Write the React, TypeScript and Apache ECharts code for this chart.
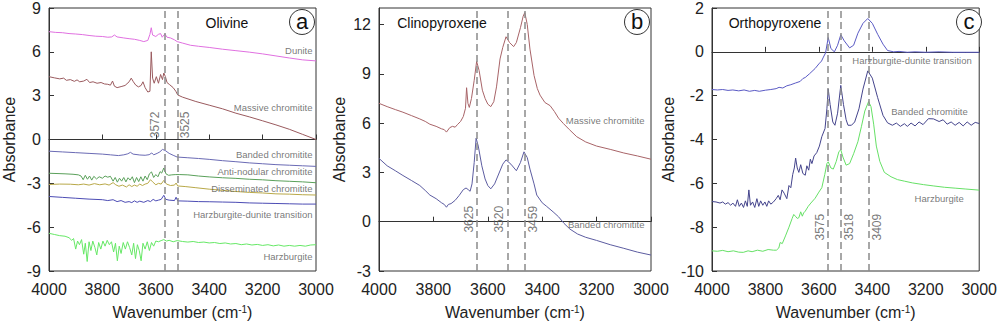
import React, { useEffect, useRef } from 'react';
import * as echarts from 'echarts';

const FONT = '"Liberation Sans", Arial, sans-serif';

// ---------- Panel a: Olivine ----------
const olivineDunite: number[][] = [
  [4000, 7.38], [3975, 7.33], [3950, 7.31], [3925, 7.25], [3900, 7.22], [3875, 7.18], [3850, 7.12], [3825, 7.07],
  [3800, 7.05], [3780, 7.0], [3765, 7.02], [3755, 7.15], [3745, 7.02], [3720, 6.95], [3700, 6.9], [3680, 6.86],
  [3660, 6.78], [3645, 6.7], [3630, 6.78], [3622, 7.2], [3617, 7.65], [3612, 7.15], [3600, 7.05], [3590, 7.2],
  [3582, 7.25], [3576, 7.0], [3570, 7.15], [3565, 7.2], [3558, 7.0], [3545, 6.95], [3530, 6.82], [3520, 6.7],
  [3500, 6.6], [3470, 6.45], [3440, 6.38], [3400, 6.3], [3350, 6.18], [3300, 6.08], [3250, 5.98], [3200, 5.86],
  [3150, 5.72], [3100, 5.58], [3050, 5.45], [3000, 5.38],
];
const olivineMassive: number[][] = [
  [4000, 4.3], [3980, 4.22], [3960, 4.15], [3945, 4.2], [3935, 4.05], [3920, 4.1], [3905, 3.98], [3895, 4.08],
  [3885, 3.95], [3870, 4.0], [3858, 4.12], [3848, 3.9], [3835, 3.95], [3820, 3.85], [3805, 3.9], [3792, 3.8],
  [3780, 3.78], [3770, 3.72], [3762, 4.0], [3755, 3.65], [3745, 3.55], [3730, 3.62], [3715, 3.7], [3700, 3.95],
  [3692, 4.2], [3684, 3.95], [3675, 3.72], [3665, 3.6], [3655, 3.7], [3648, 3.95], [3640, 3.55], [3630, 3.25],
  [3622, 3.3], [3617, 6.0], [3612, 4.2], [3606, 3.85], [3598, 4.3], [3590, 3.85], [3582, 4.45], [3575, 4.1],
  [3570, 4.55], [3564, 4.3], [3558, 3.9], [3548, 3.75], [3535, 3.55], [3525, 3.3], [3518, 3.05], [3500, 2.9],
  [3450, 2.6], [3400, 2.35], [3350, 2.1], [3300, 1.8], [3250, 1.55], [3200, 1.28], [3150, 1.0], [3100, 0.7],
  [3050, 0.35], [3000, 0.0],
];
const olivineBanded: number[][] = [
  [4000, -0.8], [3950, -0.85], [3900, -0.9], [3850, -0.95], [3800, -1.0], [3770, -1.05], [3740, -1.1], [3720, -1.05],
  [3705, -0.98], [3695, -0.88], [3685, -1.0], [3660, -1.06], [3640, -1.08], [3625, -1.04], [3615, -0.92], [3608, -1.05],
  [3595, -0.95], [3585, -0.85], [3575, -0.68], [3565, -0.75], [3550, -0.95], [3535, -1.08], [3520, -1.2], [3480, -1.25],
  [3440, -1.3], [3400, -1.36], [3350, -1.45], [3300, -1.52], [3250, -1.6], [3200, -1.66], [3150, -1.72], [3100, -1.76],
  [3050, -1.8], [3000, -1.84],
];
const olivineAntiNodular: number[][] = [
  [4000, -2.31], [3970, -2.33], [3940, -2.35], [3910, -2.38], [3890, -2.42], [3880, -2.5], [3872, -2.75], [3864, -2.45],
  [3856, -2.72], [3848, -2.5], [3840, -2.78], [3832, -2.52], [3822, -2.7], [3812, -2.55], [3800, -2.65], [3790, -2.5],
  [3780, -2.58], [3770, -2.52], [3760, -2.85], [3752, -2.6], [3744, -2.92], [3736, -2.65], [3728, -2.85], [3720, -2.6],
  [3712, -2.9], [3704, -2.62], [3696, -2.78], [3688, -2.55], [3680, -2.95], [3672, -2.6], [3664, -2.88], [3656, -2.55],
  [3648, -2.85], [3640, -2.5], [3632, -2.75], [3624, -2.35], [3616, -2.22], [3608, -2.6], [3600, -2.4], [3592, -2.55],
  [3584, -2.2], [3578, -2.3], [3570, -1.95], [3562, -2.35], [3552, -2.45], [3540, -2.42], [3525, -2.4], [3510, -2.4],
  [3480, -2.42], [3440, -2.5], [3400, -2.56], [3350, -2.62], [3300, -2.66], [3250, -2.72], [3200, -2.76], [3150, -2.82],
  [3100, -2.86], [3050, -2.9], [3000, -2.96],
];
const olivineDisseminated: number[][] = [
  [4000, -3.08], [3960, -3.05], [3920, -3.06], [3890, -3.1], [3870, -3.05], [3850, -3.12], [3830, -3.02], [3810, -3.1],
  [3790, -3.04], [3775, -3.12], [3760, -2.95], [3750, -3.1], [3738, -3.2], [3725, -3.12], [3710, -3.25], [3700, -3.1],
  [3690, -3.22], [3680, -3.12], [3670, -3.2], [3660, -3.05], [3650, -3.15], [3640, -3.05], [3630, -3.0], [3620, -2.75],
  [3612, -2.9], [3600, -3.1], [3590, -3.0], [3580, -3.05], [3570, -2.8], [3560, -3.05], [3545, -3.15], [3530, -3.12],
  [3524, -2.98], [3518, -3.18], [3490, -3.22], [3450, -3.3], [3400, -3.4], [3350, -3.48], [3300, -3.56], [3250, -3.62],
  [3200, -3.66], [3150, -3.72], [3100, -3.74], [3050, -3.78], [3000, -3.8],
];
const olivineTransition: number[][] = [
  [4000, -3.9], [3950, -3.96], [3900, -4.02], [3850, -4.08], [3800, -4.12], [3780, -4.18], [3760, -4.12], [3745, -4.25],
  [3730, -4.18], [3715, -4.3], [3700, -4.25], [3690, -4.32], [3680, -4.2], [3670, -4.3], [3660, -4.22], [3645, -4.3],
  [3630, -4.18], [3620, -4.25], [3610, -4.1], [3600, -4.2], [3590, -4.15], [3580, -4.1], [3570, -3.82], [3562, -4.1],
  [3550, -4.15], [3530, -4.18], [3524, -3.95], [3518, -4.2], [3480, -4.22], [3440, -4.25], [3400, -4.26], [3350, -4.28],
  [3300, -4.3], [3250, -4.34], [3200, -4.36], [3150, -4.38], [3100, -4.4], [3050, -4.42], [3000, -4.42],
];
const olivineHarzburgite: number[][] = [
  [4000, -6.42], [3980, -6.5], [3960, -6.58], [3940, -6.62], [3925, -6.72], [3915, -6.9], [3908, -6.78], [3900, -7.5],
  [3893, -6.95], [3886, -7.2], [3878, -6.85], [3870, -7.85], [3864, -7.1], [3857, -8.35], [3850, -7.0], [3843, -7.6],
  [3836, -6.95], [3828, -7.4], [3821, -7.9], [3814, -7.05], [3806, -7.5], [3798, -6.95], [3790, -7.3], [3782, -6.9],
  [3774, -7.2], [3766, -7.0], [3758, -7.7], [3751, -7.1], [3744, -8.3], [3737, -7.3], [3730, -7.8], [3722, -7.05],
  [3714, -7.5], [3706, -7.0], [3698, -7.4], [3690, -7.9], [3683, -7.1], [3676, -8.15], [3669, -7.2], [3662, -7.6],
  [3655, -8.3], [3648, -7.1], [3640, -7.5], [3632, -7.0], [3624, -7.6], [3616, -7.05], [3608, -7.3], [3600, -6.95],
  [3590, -7.0], [3580, -6.92], [3570, -6.85], [3560, -6.95], [3550, -6.9], [3535, -7.0], [3520, -6.92], [3500, -6.98],
  [3480, -7.02], [3460, -6.98], [3440, -7.05], [3420, -7.02], [3400, -7.08], [3380, -7.05], [3360, -7.12], [3340, -7.08],
  [3320, -7.15], [3300, -7.12], [3280, -7.2], [3260, -7.15], [3240, -7.22], [3220, -7.18], [3200, -7.25], [3180, -7.2],
  [3160, -7.28], [3140, -7.22], [3120, -7.3], [3100, -7.25], [3080, -7.3], [3060, -7.25], [3040, -7.3], [3020, -7.22],
  [3000, -7.2],
];
const olivinePeakLines = [3567, 3519];
const olivinePeakLabels = ['3572', '3525'];

// ---------- Panel b: Clinopyroxene ----------
const cpxMassive: number[][] = [
  [4000, 7.2], [3970, 7.0], [3940, 6.82], [3912, 6.66], [3880, 6.45], [3850, 6.25], [3830, 6.1], [3813, 5.93],
  [3790, 5.8], [3770, 5.65], [3760, 5.6], [3752, 5.45], [3740, 5.72], [3730, 5.8], [3720, 5.75], [3712, 5.9],
  [3700, 6.1], [3690, 6.4], [3682, 6.9], [3678, 8.15], [3673, 7.2], [3668, 6.95], [3660, 7.5], [3650, 8.6],
  [3641, 9.75], [3632, 9.2], [3620, 8.0], [3610, 7.5], [3600, 7.15], [3589, 7.0], [3578, 7.3], [3568, 8.2],
  [3555, 9.9], [3545, 10.6], [3533, 11.25], [3520, 10.9], [3505, 10.65], [3495, 10.9], [3480, 11.8], [3470, 12.5],
  [3464, 12.72], [3455, 12.0], [3445, 10.5], [3430, 8.9], [3418, 8.1], [3408, 7.7], [3390, 7.25], [3371, 7.06],
  [3355, 6.7], [3340, 6.3], [3322, 5.97], [3300, 5.6], [3273, 5.17], [3240, 4.85], [3200, 4.6], [3150, 4.4],
  [3100, 4.18], [3050, 4.0], [3000, 3.8],
];
const cpxBanded: number[][] = [
  [4000, 3.85], [3970, 3.4], [3940, 3.1], [3912, 2.81], [3880, 2.5], [3850, 2.2], [3830, 1.9], [3813, 1.62],
  [3790, 1.4], [3770, 1.15], [3760, 1.05], [3752, 0.88], [3745, 1.05], [3735, 1.1], [3720, 1.3], [3705, 1.6],
  [3690, 1.95], [3680, 2.05], [3672, 1.95], [3665, 1.85], [3658, 2.3], [3650, 3.6], [3643, 5.08], [3635, 4.6],
  [3622, 3.4], [3610, 2.6], [3600, 2.2], [3589, 2.0], [3575, 2.3], [3560, 2.9], [3545, 3.5], [3533, 3.76],
  [3515, 3.5], [3495, 3.1], [3480, 3.6], [3467, 4.25], [3455, 3.9], [3445, 3.2], [3430, 2.3], [3420, 1.62],
  [3400, 1.15], [3385, 0.95], [3360, 0.6], [3340, 0.3], [3320, -0.1], [3298, -0.45], [3270, -0.75], [3240, -0.95],
  [3200, -1.14], [3150, -1.4], [3100, -1.62], [3050, -1.85], [3000, -2.03],
];
const cpxPeakLines = [3639, 3528, 3463];
const cpxPeakLabels = ['3625', '3520', '3459'];

// ---------- Panel c: Orthopyroxene ----------
const opxTransition: number[][] = [
  [4000, -1.72], [3980, -1.74], [3960, -1.72], [3940, -1.76], [3922, -1.74], [3900, -1.78], [3880, -1.74], [3860, -1.8],
  [3840, -1.76], [3823, -1.8], [3800, -1.75], [3780, -1.72], [3760, -1.68], [3749, -1.62], [3735, -1.65], [3720, -1.55],
  [3705, -1.5], [3687, -1.42], [3670, -1.35], [3660, -1.22], [3651, -1.17], [3635, -1.0], [3614, -0.76], [3600, -0.55],
  [3590, -0.42], [3583, -0.24], [3575, -0.05], [3565, 0.65], [3555, 0.15], [3542, 0.0], [3530, 0.3], [3518, 0.78],
  [3505, 0.5], [3485, 0.18], [3470, 0.3], [3454, 0.85], [3435, 1.3], [3417, 1.52], [3400, 1.3], [3380, 0.8],
  [3360, 0.35], [3343, 0.06], [3320, 0.0], [3300, 0.02], [3269, -0.02], [3240, 0.0], [3200, -0.02], [3150, 0.0],
  [3100, -0.02], [3050, -0.02], [3000, -0.02],
];
const opxBanded: number[][] = [
  [4000, -6.83], [3985, -6.85], [3970, -6.9], [3960, -6.85], [3950, -6.95], [3940, -6.88], [3930, -7.0], [3922, -6.9],
  [3912, -7.05], [3905, -6.75], [3898, -7.05], [3890, -6.9], [3882, -7.1], [3875, -6.8], [3868, -7.05], [3862, -6.3],
  [3856, -7.0], [3848, -6.85], [3840, -7.1], [3832, -6.7], [3825, -7.05], [3818, -6.8], [3810, -7.0], [3802, -6.85],
  [3795, -7.05], [3788, -6.8], [3780, -6.95], [3770, -6.85], [3760, -6.7], [3752, -6.55], [3745, -6.75], [3738, -6.3],
  [3730, -6.45], [3720, -6.7], [3712, -6.1], [3705, -6.2], [3698, -5.6], [3692, -5.3], [3687, -4.85], [3681, -5.3],
  [3675, -5.5], [3668, -5.15], [3660, -5.55], [3651, -5.63], [3645, -5.2], [3638, -5.4], [3632, -4.9], [3626, -5.1],
  [3618, -4.75], [3608, -4.6], [3598, -4.3], [3589, -3.87], [3577, -3.5], [3570, -2.6], [3565, -1.7], [3558, -2.4],
  [3548, -3.2], [3540, -3.35], [3530, -2.8], [3518, -1.53], [3508, -2.4], [3498, -3.1], [3491, -3.35], [3478, -3.35],
  [3466, -3.2], [3450, -2.6], [3435, -1.7], [3417, -0.87], [3400, -1.2], [3380, -2.09], [3360, -2.9], [3343, -3.24],
  [3325, -3.35], [3310, -3.25], [3295, -3.4], [3280, -3.28], [3269, -3.4], [3255, -3.25], [3240, -3.38], [3225, -3.2],
  [3210, -3.32], [3190, -3.05], [3171, -3.06], [3150, -3.18], [3135, -3.1], [3120, -3.3], [3105, -3.2], [3090, -3.35],
  [3075, -3.22], [3060, -3.38], [3045, -3.2], [3030, -3.35], [3015, -3.22], [3000, -3.27],
];
const opxHarzburgite: number[][] = [
  [4000, -9.08], [3980, -9.1], [3960, -9.06], [3940, -9.12], [3920, -9.08], [3900, -9.14], [3883, -9.15], [3865, -9.08],
  [3850, -9.12], [3830, -9.05], [3810, -9.1], [3790, -9.02], [3770, -9.05], [3759, -9.05], [3750, -8.95], [3745, -8.7],
  [3737, -8.75], [3725, -8.4], [3712, -8.0], [3700, -7.6], [3694, -7.42], [3688, -7.5], [3681, -7.6], [3675, -7.57],
  [3668, -7.3], [3662, -7.5], [3657, -7.35], [3651, -7.27], [3640, -7.05], [3630, -6.9], [3614, -6.68], [3600, -6.4],
  [3589, -6.2], [3578, -5.6], [3570, -5.1], [3565, -5.02], [3555, -5.3], [3546, -5.35], [3535, -5.0], [3525, -4.55],
  [3518, -4.47], [3510, -4.8], [3498, -5.17], [3485, -5.1], [3470, -4.65], [3454, -4.1], [3441, -3.42], [3428, -2.7],
  [3414, -2.27], [3405, -2.5], [3395, -3.3], [3385, -4.3], [3372, -5.0], [3355, -5.5], [3330, -5.7], [3306, -5.83],
  [3280, -5.9], [3250, -5.98], [3208, -6.06], [3170, -6.12], [3130, -6.18], [3090, -6.22], [3050, -6.26], [3000, -6.31],
];
const opxPeakLines = [3565, 3518, 3414];
const opxPeakLabels = ['3575', '3518', '3409'];

const xTicksMin = 3000;
const xTicksMax = 4000;
const xTickStep = 200;

type Curve = { name: string; color: string; data: number[][]; labelY: number; labelInset: number };
type Panel = {
  left: number; width: number; yMin: number; yMax: number; yStep: number; hideMax: boolean;
  title: string; titleX: number; letter: string; letterX: number;
  curves: Curve[]; peakLines: number[]; peakLabels: string[]; peakLabelY: number; peakOffsets: number[];
};

const panels: Panel[] = [
  {
    left: 45, width: 271, yMin: -9, yMax: 9, yStep: 3, hideMax: false,
    title: 'Olivine', titleX: 227, letter: 'a', letterX: 302,
    curves: [
      { name: 'Dunite', color: '#e070e0', data: olivineDunite, labelY: 6.08, labelInset: 3 },
      { name: 'Massive chromitite', color: '#9a5a5e', data: olivineMassive, labelY: 2.2, labelInset: 3 },
      { name: 'Banded chromitite', color: '#6a6ab4', data: olivineBanded, labelY: -1.02, labelInset: 3 },
      { name: 'Anti-nodular chromitite', color: '#5aa05a', data: olivineAntiNodular, labelY: -2.17, labelInset: 3 },
      { name: 'Disseminated chromitite', color: '#b8a848', data: olivineDisseminated, labelY: -3.38, labelInset: 3 },
      { name: 'Harzburgite-dunite transition', color: '#4c4cb4', data: olivineTransition, labelY: -5.12, labelInset: 3 },
      { name: 'Harzburgite', color: '#66e866', data: olivineHarzburgite, labelY: -8.02, labelInset: 3 },
    ],
    peakLines: olivinePeakLines, peakLabels: olivinePeakLabels, peakLabelY: 1.0, peakOffsets: [-10, 8],
  },
  {
    left: 379, width: 272, yMin: -3, yMax: 13, yStep: 3, hideMax: true,
    title: 'Clinopyroxene', titleX: 442, letter: 'b', letterX: 637,
    curves: [
      { name: 'Massive chromitite', color: '#a86468', data: cpxMassive, labelY: 6.13, labelInset: 6 },
      { name: 'Banded chromitite', color: '#5c5ca0', data: cpxBanded, labelY: -0.2, labelInset: 6 },
    ],
    peakLines: cpxPeakLines, peakLabels: cpxPeakLabels, peakLabelY: 0.15, peakOffsets: [-8, -8, 8],
  },
  {
    left: 712, width: 271, yMin: -10, yMax: 2, yStep: 2, hideMax: false,
    title: 'Orthopyroxene', titleX: 775, letter: 'c', letterX: 969,
    curves: [
      { name: 'Harzburgite-dunite transition', color: '#5a5ac4', data: opxTransition, labelY: -0.39, labelInset: 7 },
      { name: 'Banded chromitite', color: '#44448c', data: opxBanded, labelY: -2.72, labelInset: 11 },
      { name: 'Harzburgite', color: '#66e066', data: opxHarzburgite, labelY: -6.71, labelInset: 15 },
    ],
    peakLines: opxPeakLines, peakLabels: opxPeakLabels, peakLabelY: -8.0, peakOffsets: [-8, 8, 8],
  },
];

function buildOption() {
  const grid: any[] = [];
  const xAxis: any[] = [];
  const yAxis: any[] = [];
  const series: any[] = [];
  const graphic: any[] = [];
  const axisColor = '#333';

  panels.forEach((p, i) => {
    grid.push({ left: p.left, top: 8, width: p.width, height: 270, show: true, borderColor: axisColor, borderWidth: 1, containLabel: false });
    xAxis.push({
      type: 'value', gridIndex: i, min: xTicksMin, max: xTicksMax, interval: xTickStep, inverse: true,
      axisLine: { show: true, lineStyle: { color: axisColor, width: 1 } },
      axisTick: { show: true, inside: true, length: 5, lineStyle: { color: axisColor } },
      axisLabel: { fontSize: 16, color: '#222', margin: 10, fontFamily: FONT, formatter: (v: number) => String(v) },
      splitLine: { show: false },
      name: 'Wavenumber (cm{sup|-1})', nameLocation: 'middle', nameGap: 33,
      nameTextStyle: {
        fontSize: 16, color: '#222', fontFamily: FONT,
        rich: { sup: { fontSize: 10, fontFamily: FONT, color: '#222', verticalAlign: 'top', lineHeight: 10, padding: [0, 0, 8, 0] } },
      },
    });
    yAxis.push({
      type: 'value', gridIndex: i, min: p.yMin, max: p.yMax, interval: p.yStep,
      axisLine: { show: true, lineStyle: { color: axisColor, width: 1 } },
      axisTick: { show: true, inside: true, length: 5, lineStyle: { color: axisColor } },
      axisLabel: { fontSize: 16, color: '#222', margin: 8, fontFamily: FONT, showMaxLabel: !p.hideMax, formatter: (v: number) => String(v) },
      splitLine: { show: false },
      name: 'Absorbance', nameLocation: 'middle', nameGap: 32,
      nameTextStyle: { fontSize: 16, color: '#222', fontFamily: FONT },
    });

    p.curves.forEach((c) => {
      series.push({
        type: 'line', xAxisIndex: i, yAxisIndex: i, data: c.data, showSymbol: false, symbol: 'none',
        lineStyle: { width: 1, color: c.color }, itemStyle: { color: c.color }, z: 3,
      });
    });

    // curve name labels
    series.push({
      type: 'scatter', xAxisIndex: i, yAxisIndex: i, symbolSize: 1, clip: false, silent: true,
      itemStyle: { color: 'rgba(0,0,0,0)' }, z: 5,
      data: p.curves.map((c) => ({
        value: [xTicksMin, c.labelY],
        label: { show: true, formatter: c.name, position: 'left', distance: c.labelInset, fontSize: 9.5, color: '#555', fontFamily: FONT },
      })),
    });

    // peak dashed lines + rotated labels (offset is in the rotated text frame)
    series.push({
      type: 'scatter', xAxisIndex: i, yAxisIndex: i, symbolSize: 1, clip: false, silent: true,
      itemStyle: { color: 'rgba(0,0,0,0)' }, z: 4,
      data: p.peakLines.map((w, k) => ({
        value: [w, p.peakLabelY],
        label: {
          show: true, formatter: p.peakLabels[k], position: 'inside', rotate: 90, offset: [0, p.peakOffsets[k]],
          fontSize: 12, color: '#555', fontFamily: FONT, align: 'center', verticalAlign: 'middle',
        },
      })),
      markLine: {
        silent: true, symbol: 'none', animation: false,
        label: { show: false },
        lineStyle: { type: [7, 4], color: '#8a8a8a', width: 1.5 },
        data: p.peakLines.map((w) => ({ xAxis: w })),
      },
    });

    graphic.push({
      type: 'text', x: p.titleX, y: 23, z: 10,
      style: { text: p.title, fontSize: 14, fontFamily: FONT, fill: '#111', align: 'center', verticalAlign: 'middle' },
    });
    graphic.push({
      type: 'circle', z: 10, shape: { cx: p.letterX, cy: 22, r: 12.5 },
      style: { fill: '#fff', stroke: '#333', lineWidth: 1 },
    });
    graphic.push({
      type: 'text', x: p.letterX, y: 21, z: 11,
      style: { text: p.letter, fontSize: 22, fontFamily: FONT, fill: '#111', align: 'center', verticalAlign: 'middle' },
    });
  });

  return { animation: false, backgroundColor: '#fff', grid, xAxis, yAxis, series, graphic };
}

export default function App() {
  const ref = useRef<HTMLDivElement>(null);
  useEffect(() => {
    const chart = echarts.init(ref.current as HTMLDivElement, null, { renderer: 'svg' });
    chart.setOption(buildOption() as any);
    return () => chart.dispose();
  }, []);
  return <div ref={ref} style={{ position: 'absolute', left: 0, top: 0, width: 1000, height: 327 }} />;
}
